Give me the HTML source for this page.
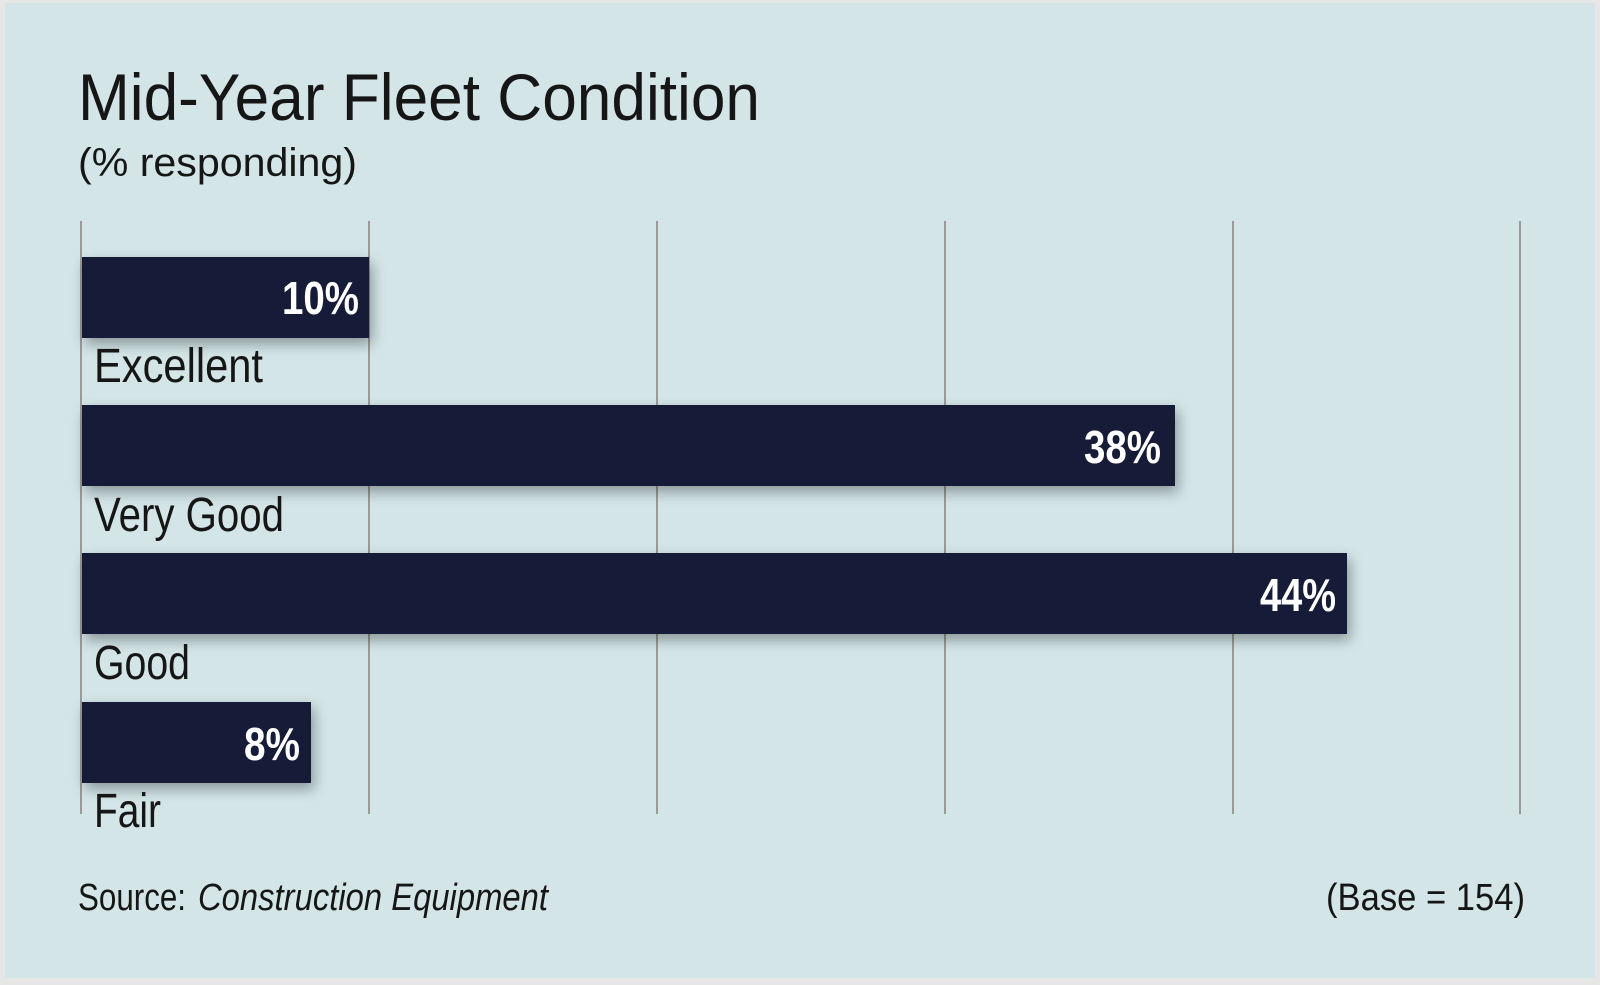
<!DOCTYPE html>
<html><head><meta charset="utf-8"><style>
html,body{margin:0;padding:0;background:#bfbfbf;}
svg{display:block;}
text{font-family:"Liberation Sans Narrow","Liberation Sans",sans-serif;fill:#161616;}
</style></head><body>
<svg width="1600" height="985" viewBox="0 0 1600 985" xmlns="http://www.w3.org/2000/svg">
<defs>
<filter id="sh" x="-10%" y="-50%" width="120%" height="200%">
<feGaussianBlur in="SourceAlpha" stdDeviation="7"/>
<feOffset dx="3" dy="6" result="b"/>
<feComponentTransfer><feFuncA type="linear" slope="0.35"/></feComponentTransfer>
<feMerge><feMergeNode/><feMergeNode in="SourceGraphic"/></feMerge>
</filter>
</defs>
<rect x="0" y="0" width="1600" height="985" fill="#e6e6e6"/>
<rect x="5" y="3" width="1590" height="975" fill="#d3e5e7"/>
<text x="78" y="120" font-size="66" textLength="682" lengthAdjust="spacingAndGlyphs">Mid-Year Fleet Condition</text>
<text x="78" y="176" font-size="40" textLength="279" lengthAdjust="spacingAndGlyphs">(% responding)</text>
<g stroke="#9a9a9a" stroke-width="2">
<line x1="81" y1="221" x2="81" y2="814"/>
<line x1="369" y1="221" x2="369" y2="814"/>
<line x1="657" y1="221" x2="657" y2="814"/>
<line x1="945" y1="221" x2="945" y2="814"/>
<line x1="1233" y1="221" x2="1233" y2="814"/>
<line x1="1520" y1="221" x2="1520" y2="814"/>
</g>
<g fill="#181c37" filter="url(#sh)">
<rect x="82" y="257" width="287" height="81"/>
<rect x="82" y="405" width="1093" height="81"/>
<rect x="82" y="553" width="1265" height="81"/>
<rect x="82" y="702" width="229" height="81"/>
</g>
<g font-size="46" font-weight="bold" style="fill:#fff">
<text x="282" y="314" textLength="77" lengthAdjust="spacingAndGlyphs" style="fill:#fff">10%</text>
<text x="1084" y="463" textLength="77" lengthAdjust="spacingAndGlyphs" style="fill:#fff">38%</text>
<text x="1260" y="611" textLength="76" lengthAdjust="spacingAndGlyphs" style="fill:#fff">44%</text>
<text x="244" y="760" textLength="56" lengthAdjust="spacingAndGlyphs" style="fill:#fff">8%</text>
</g>
<g font-size="48">
<text x="94" y="382" textLength="169" lengthAdjust="spacingAndGlyphs">Excellent</text>
<text x="94" y="531" textLength="190" lengthAdjust="spacingAndGlyphs">Very Good</text>
<text x="94" y="679" textLength="96" lengthAdjust="spacingAndGlyphs">Good</text>
<text x="94" y="827" textLength="67" lengthAdjust="spacingAndGlyphs">Fair</text>
</g>
<text x="78" y="910" font-size="38" textLength="108" lengthAdjust="spacingAndGlyphs">Source:</text>
<text x="198" y="910" font-size="38" font-style="italic" textLength="350" lengthAdjust="spacingAndGlyphs">Construction Equipment</text>
<text x="1326" y="910" font-size="38" textLength="199" lengthAdjust="spacingAndGlyphs">(Base = 154)</text>
</svg>
</body></html>
